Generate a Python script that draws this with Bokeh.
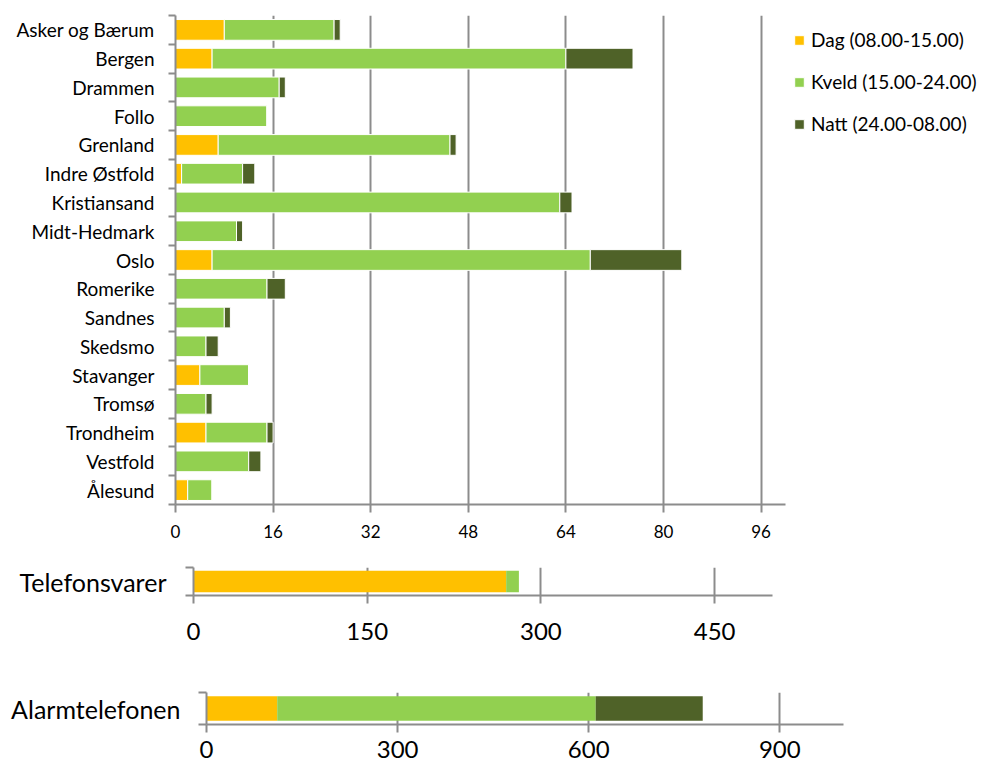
from bokeh.plotting import figure
from bokeh.models import ColumnDataSource, FixedTicker, Range1d, Legend, LegendItem
from bokeh.embed import file_html
from bokeh.resources import INLINE

# ---------------- data ----------------
regions = ["Asker og Bærum", "Bergen", "Drammen", "Follo", "Grenland", "Indre Østfold",
           "Kristiansand", "Midt-Hedmark", "Oslo", "Romerike", "Sandnes", "Skedsmo",
           "Stavanger", "Tromsø", "Trondheim", "Vestfold", "Ålesund"]
dag = [8, 6, 0, 0, 7, 1, 0, 0, 6, 0, 0, 0, 4, 0, 5, 0, 2]
kveld = [18, 58, 17, 15, 38, 10, 63, 10, 62, 15, 8, 5, 8, 5, 10, 12, 4]
natt = [1, 11, 1, 0, 1, 2, 2, 1, 15, 3, 1, 2, 0, 1, 1, 2, 0]
main_ticks = [0, 16, 32, 48, 64, 80, 96]
main_max = 100

tlf_label = ["Telefonsvarer"]
tlf_dag = [270]
tlf_kveld = [11]
tlf_natt = [0]
tlf_ticks = [0, 150, 300, 450]

alarm_label = ["Alarmtelefonen"]
alarm_dag = [111]
alarm_kveld = [500]
alarm_natt = [168]
alarm_ticks = [0, 300, 600, 900]

series_names = ["Dag (08.00-15.00)", "Kveld (15.00-24.00)", "Natt (24.00-08.00)"]
colors = ["#FFC000", "#92D050", "#4F6228"]

FONT = "Lato"
GRAY = "#8c8c8c"
TXT = "#000000"


def style_common(p):
    p.outline_line_color = None
    p.background_fill_color = "white"
    p.border_fill_color = "white"
    p.ygrid.grid_line_color = None
    p.xgrid.grid_line_color = GRAY
    p.xgrid.grid_line_width = 2
    for ax in (p.xaxis[0], p.yaxis[0]):
        ax.axis_line_color = GRAY
        ax.axis_line_width = 2
        ax.major_tick_line_color = GRAY
        ax.major_tick_line_width = 2
        ax.minor_tick_line_color = GRAY
        ax.minor_tick_line_width = 2
        ax.major_label_text_font = FONT
        ax.major_label_text_color = TXT
    p.yaxis.major_tick_out = 0
    p.yaxis.major_tick_in = 0
    p.yaxis.minor_tick_in = 0
    p.xaxis.major_tick_in = 0
    p.xaxis.minor_tick_out = 0
    p.xaxis.minor_tick_in = 0


# ---------------- main chart ----------------
n = len(regions)
ypos = [n - 1 - i for i in range(n)]
src = ColumnDataSource(dict(y=ypos, dag=dag, kveld=kveld, natt=natt))

px_per_unit = 6.1
frame_w = 808  # plot area (610 px = 0..100) plus room for the legend on the right
p = figure(frame_width=frame_w, frame_height=489, min_border_left=175, min_border_top=15,
           min_border_bottom=44, min_border_right=0,
           x_range=Range1d(0, frame_w / px_per_unit), y_range=Range1d(-0.5, n - 0.5),
           output_backend="svg", toolbar_location=None)
rs = p.hbar_stack(["dag", "kveld", "natt"], y="y", height=0.72, color=colors,
                  line_color="white", line_width=1, source=src)
style_common(p)
p.xaxis.ticker = FixedTicker(ticks=main_ticks)
p.xaxis.bounds = (0, main_max)
p.xaxis.major_tick_out = 8
p.xaxis.major_label_standoff = 12
p.xaxis.major_label_text_font_size = "17px"
p.yaxis.ticker = FixedTicker(ticks=ypos, minor_ticks=[k + 0.5 for k in range(-1, n)])
p.yaxis.major_label_overrides = {ypos[i]: regions[i] for i in range(n)}
p.yaxis.minor_tick_out = 7
p.yaxis.major_label_standoff = 14
p.yaxis.major_label_text_font_size = "19px"

legend = Legend(items=[LegendItem(label=series_names[i], renderers=[rs[i]]) for i in range(3)],
                location=(618, 369), margin=0, padding=8, spacing=19,
                glyph_width=12, glyph_height=12, label_height=20, label_standoff=6,
                label_text_font=FONT, label_text_font_size="19px", label_text_color=TXT,
                border_line_color=None, background_fill_alpha=0)
p.add_layout(legend, "center")


# ---------------- small charts ----------------
def small_chart(label, d, k, nt, ticks, xmax, fw, fh, left, top, bottom, standoff_y, standoff_x):
    s = ColumnDataSource(dict(y=[0.5], dag=d, kveld=k, natt=nt))
    f = figure(frame_width=fw, frame_height=fh,
               min_border_left=left, min_border_top=top, min_border_bottom=bottom,
               min_border_right=5,
               x_range=Range1d(0, xmax), y_range=Range1d(0, 1),
               output_backend="svg", toolbar_location=None)
    f.hbar_stack(["dag", "kveld", "natt"], y="y", height=0.76, color=colors,
                 line_color=None, source=s)
    style_common(f)
    f.xaxis.ticker = FixedTicker(ticks=ticks)
    f.xaxis.major_tick_out = 8
    f.xaxis.major_label_standoff = standoff_x
    f.xaxis.major_label_text_font_size = "24px"
    f.yaxis.ticker = FixedTicker(ticks=[0.5], minor_ticks=[0, 1])
    f.yaxis.major_label_overrides = {0.5: label[0]}
    f.yaxis.minor_tick_out = 8
    f.yaxis.major_label_standoff = standoff_y
    f.yaxis.major_label_text_font_size = "25px"
    return f


p2 = small_chart(tlf_label, tlf_dag, tlf_kveld, tlf_natt, tlf_ticks, 500, 579, 28,
                 193, 19, 55, 19, 19)
p3 = small_chart(alarm_label, alarm_dag, alarm_kveld, alarm_natt, alarm_ticks, 1000, 637, 32,
                 206, 42, 46, 18, 8)

roots = [p, p2, p3]
open("out.html", "w").write(file_html(roots, INLINE))
